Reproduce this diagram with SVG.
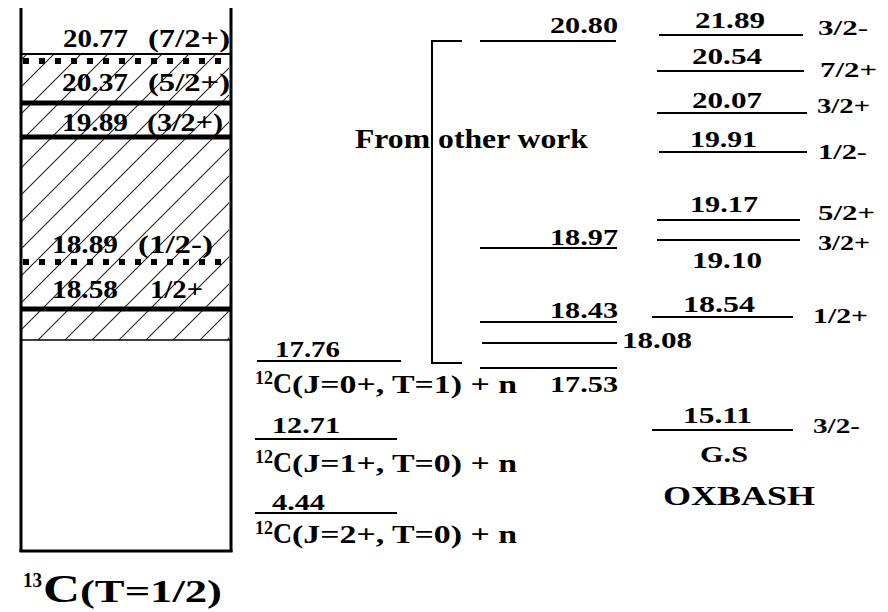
<svg xmlns="http://www.w3.org/2000/svg" width="888" height="612" viewBox="0 0 888 612">
<style>
.t{font-family:"Liberation Serif","Times New Roman",serif;font-weight:bold;fill:#000}
.lv{stroke:#000;stroke-width:2;fill:none}
.thick{stroke:#000;stroke-width:5}
.dot{stroke:#000;stroke-width:6;stroke-dasharray:6 10}
.frame{stroke:#000;stroke-width:3;fill:none}
</style>
<defs>
<pattern id="hatch" patternUnits="userSpaceOnUse" width="27" height="27">
<path d="M0,27 L27,0 M-3,3 L3,-3 M24,30 L30,24" stroke="#222" stroke-width="1.1"/>
</pattern>
</defs>
<rect width="888" height="612" fill="#fff"/>

<g id="c13-column">
<rect x="22" y="54" width="207" height="286" fill="url(#hatch)"/>
<line x1="21" y1="8" x2="21" y2="552" class="frame"/>
<line x1="231" y1="8" x2="231" y2="552" class="frame"/>
<line x1="19.5" y1="551" x2="232.5" y2="551" class="frame"/>
<line x1="21" y1="54" x2="231" y2="54" stroke="#000" stroke-width="2"/>
<line x1="22" y1="340" x2="230" y2="340" stroke="#000" stroke-width="1.5"/>
</g>

<g id="level-2077">
<line x1="23" y1="61" x2="230" y2="61" class="dot"/>
<text class="t" font-size="25"><tspan x="63" y="47" textLength="65" lengthAdjust="spacingAndGlyphs">20.77</tspan><tspan x="148" y="47" textLength="82" lengthAdjust="spacingAndGlyphs">(7/2+)</tspan></text>
</g>
<g id="level-2037">
<line x1="21" y1="103" x2="231" y2="103" class="thick"/>
<text class="t" font-size="25"><tspan x="62" y="91" textLength="66" lengthAdjust="spacingAndGlyphs">20.37</tspan><tspan x="148" y="91" textLength="82" lengthAdjust="spacingAndGlyphs">(5/2+)</tspan></text>
</g>
<g id="level-1989">
<line x1="21" y1="137" x2="231" y2="137" class="thick"/>
<text class="t" font-size="25"><tspan x="62" y="131" textLength="66" lengthAdjust="spacingAndGlyphs">19.89</tspan><tspan x="147" y="131" textLength="76" lengthAdjust="spacingAndGlyphs">(3/2+)</tspan></text>
</g>
<g id="level-1889">
<line x1="23" y1="262" x2="230" y2="262" class="dot"/>
<text class="t" font-size="25"><tspan x="52" y="253" textLength="66" lengthAdjust="spacingAndGlyphs">18.89</tspan><tspan x="138" y="253" textLength="75" lengthAdjust="spacingAndGlyphs">(1/2-)</tspan></text>
</g>
<g id="level-1858">
<line x1="21" y1="309" x2="231" y2="309" class="thick"/>
<text class="t" font-size="25"><tspan x="52" y="298" textLength="66" lengthAdjust="spacingAndGlyphs">18.58</tspan><tspan x="150" y="298" textLength="53" lengthAdjust="spacingAndGlyphs">1/2+</tspan></text>
</g>
<g id="label-c13">
<text class="t"><tspan x="23" y="587" font-size="20" textLength="19" lengthAdjust="spacingAndGlyphs">13</tspan><tspan x="43" y="602" font-size="40" textLength="37" lengthAdjust="spacingAndGlyphs">C</tspan><tspan x="80" y="602" font-size="31" textLength="142" lengthAdjust="spacingAndGlyphs">(T=1/2)</tspan></text>
</g>

<g id="threshold-1776">
<text class="t" font-size="24" x="275" y="357" textLength="65" lengthAdjust="spacingAndGlyphs">17.76</text>
<line x1="257" y1="361" x2="401" y2="361" class="lv"/>
<text class="t"><tspan x="255" y="384" font-size="18" textLength="18" lengthAdjust="spacingAndGlyphs">12</tspan><tspan x="273" y="393" font-size="29" textLength="19" lengthAdjust="spacingAndGlyphs">C</tspan><tspan x="292" y="393" font-size="25" textLength="225" lengthAdjust="spacingAndGlyphs">(J=0+, T=1) + n</tspan></text>
</g>
<g id="threshold-1271">
<text class="t" font-size="24" x="272" y="433" textLength="68" lengthAdjust="spacingAndGlyphs">12.71</text>
<line x1="255" y1="439" x2="397" y2="439" class="lv"/>
<text class="t"><tspan x="255" y="463" font-size="18" textLength="18" lengthAdjust="spacingAndGlyphs">12</tspan><tspan x="273" y="472" font-size="29" textLength="19" lengthAdjust="spacingAndGlyphs">C</tspan><tspan x="292" y="472" font-size="25" textLength="225" lengthAdjust="spacingAndGlyphs">(J=1+, T=0) + n</tspan></text>
</g>
<g id="threshold-444">
<text class="t" font-size="24" x="272" y="510" textLength="53" lengthAdjust="spacingAndGlyphs">4.44</text>
<line x1="255" y1="513" x2="397" y2="513" class="lv"/>
<text class="t"><tspan x="255" y="534" font-size="18" textLength="18" lengthAdjust="spacingAndGlyphs">12</tspan><tspan x="273" y="543" font-size="29" textLength="19" lengthAdjust="spacingAndGlyphs">C</tspan><tspan x="292" y="543" font-size="25" textLength="225" lengthAdjust="spacingAndGlyphs">(J=2+, T=0) + n</tspan></text>
</g>

<g id="connectors">
<path d="M462,41 H432 V363 H462" class="lv"/>
</g>
<g id="label-other-work">
<text class="t" font-size="27" x="355" y="148" textLength="233" lengthAdjust="spacingAndGlyphs">From other work</text>
</g>

<g id="exp-2080">
<text class="t" font-size="24" x="550" y="33" textLength="68" lengthAdjust="spacingAndGlyphs">20.80</text>
<line x1="480" y1="41" x2="616" y2="41" class="lv"/>
</g>
<g id="exp-1897">
<text class="t" font-size="24" x="550" y="245" textLength="68" lengthAdjust="spacingAndGlyphs">18.97</text>
<line x1="480" y1="248" x2="617" y2="248" class="lv"/>
</g>
<g id="exp-1843">
<text class="t" font-size="24" x="550" y="318" textLength="68" lengthAdjust="spacingAndGlyphs">18.43</text>
<line x1="480" y1="322" x2="617" y2="322" class="lv"/>
</g>
<g id="exp-1808">
<line x1="482" y1="343" x2="617" y2="343" class="lv"/>
<text class="t" font-size="24" x="622" y="348" textLength="70" lengthAdjust="spacingAndGlyphs">18.08</text>
</g>
<g id="exp-1753">
<line x1="480" y1="368" x2="617" y2="368" class="lv"/>
<text class="t" font-size="24" x="550" y="392" textLength="68" lengthAdjust="spacingAndGlyphs">17.53</text>
</g>

<g id="ox-2189">
<text class="t" font-size="23" x="695" y="28" textLength="70" lengthAdjust="spacingAndGlyphs">21.89</text>
<line x1="659" y1="35" x2="803" y2="35" class="lv"/>
<text class="t" font-size="22" x="818" y="35" textLength="50" lengthAdjust="spacingAndGlyphs">3/2-</text>
</g>
<g id="ox-2054">
<text class="t" font-size="23" x="692" y="64" textLength="70" lengthAdjust="spacingAndGlyphs">20.54</text>
<line x1="657" y1="71" x2="804" y2="71" class="lv"/>
<text class="t" font-size="22" x="820" y="77" textLength="57" lengthAdjust="spacingAndGlyphs">7/2+</text>
</g>
<g id="ox-2007">
<text class="t" font-size="23" x="692" y="108" textLength="70" lengthAdjust="spacingAndGlyphs">20.07</text>
<line x1="657" y1="113" x2="807" y2="113" class="lv"/>
<text class="t" font-size="22" x="817" y="113" textLength="53" lengthAdjust="spacingAndGlyphs">3/2+</text>
</g>
<g id="ox-1991">
<text class="t" font-size="23" x="690" y="147" textLength="67" lengthAdjust="spacingAndGlyphs">19.91</text>
<line x1="659" y1="152" x2="807" y2="152" class="lv"/>
<text class="t" font-size="22" x="818" y="159" textLength="49" lengthAdjust="spacingAndGlyphs">1/2-</text>
</g>
<g id="ox-1917">
<text class="t" font-size="23" x="690" y="212" textLength="68" lengthAdjust="spacingAndGlyphs">19.17</text>
<line x1="657" y1="220" x2="800" y2="220" class="lv"/>
<text class="t" font-size="22" x="818" y="220" textLength="57" lengthAdjust="spacingAndGlyphs">5/2+</text>
</g>
<g id="ox-1910">
<line x1="657" y1="240" x2="800" y2="240" class="lv"/>
<text class="t" font-size="22" x="818" y="250" textLength="52" lengthAdjust="spacingAndGlyphs">3/2+</text>
<text class="t" font-size="23" x="692" y="268" textLength="70" lengthAdjust="spacingAndGlyphs">19.10</text>
</g>
<g id="ox-1854">
<text class="t" font-size="23" x="683" y="312" textLength="72" lengthAdjust="spacingAndGlyphs">18.54</text>
<line x1="652" y1="317" x2="793" y2="317" class="lv"/>
<text class="t" font-size="22" x="813" y="323" textLength="55" lengthAdjust="spacingAndGlyphs">1/2+</text>
</g>
<g id="ox-1511">
<text class="t" font-size="23" x="683" y="423" textLength="69" lengthAdjust="spacingAndGlyphs">15.11</text>
<line x1="652" y1="430" x2="793" y2="430" class="lv"/>
<text class="t" font-size="22" x="813" y="433" textLength="47" lengthAdjust="spacingAndGlyphs">3/2-</text>
<text class="t" font-size="23" x="700" y="462" textLength="48" lengthAdjust="spacingAndGlyphs">G.S</text>
</g>
<g id="label-oxbash">
<text class="t" font-size="27" x="663" y="505" textLength="152" lengthAdjust="spacingAndGlyphs">OXBASH</text>
</g>
</svg>
